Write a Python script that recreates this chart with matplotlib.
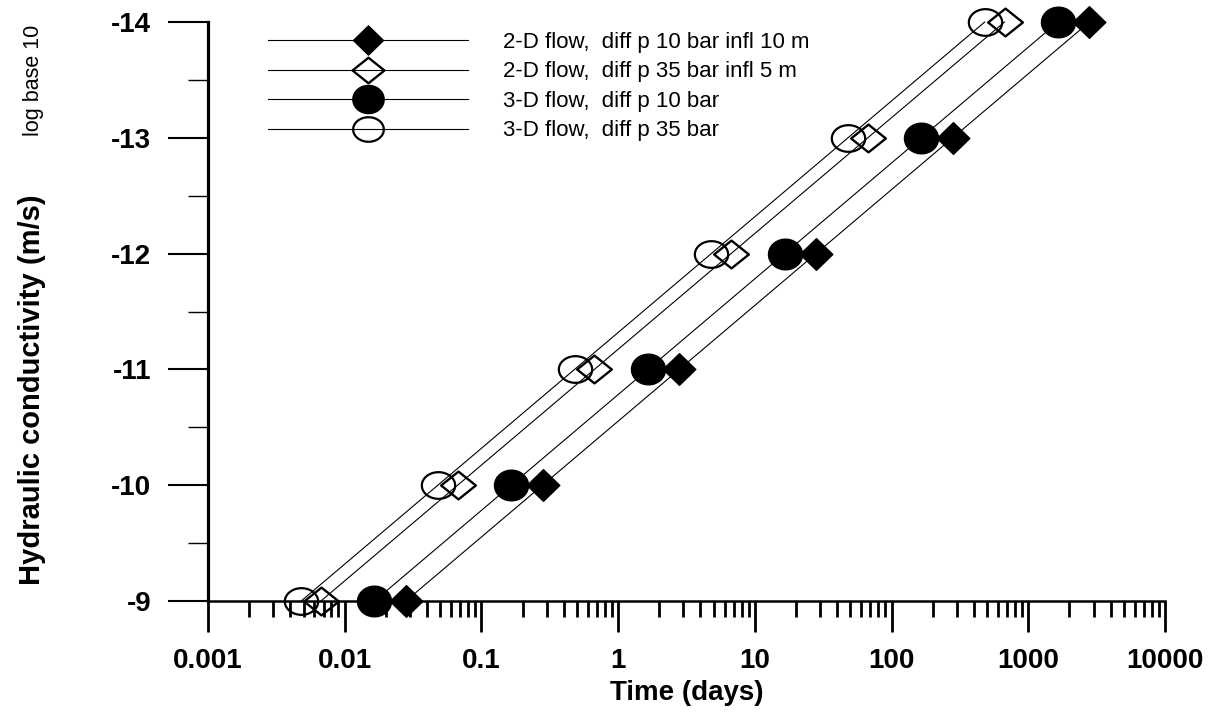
import matplotlib
matplotlib.use('Agg')
import matplotlib.pyplot as plt
from matplotlib.path import Path
from matplotlib.ticker import MultipleLocator, LogLocator, NullFormatter
import numpy as np

# ---------------- data ----------------
log_k = [-9, -10, -11, -12, -13, -14]
t_2d_10 = [0.028, 0.28, 2.8, 28, 280, 2800]
t_2d_35 = [0.0067, 0.067, 0.67, 6.7, 67, 670]
t_3d_10 = [0.0165, 0.165, 1.65, 16.5, 165, 1650]
t_3d_35 = [0.0048, 0.048, 0.48, 4.8, 48, 480]
series_labels = ["2-D flow,  diff p 10 bar infl 10 m",
                 "2-D flow,  diff p 35 bar infl 5 m",
                 "3-D flow,  diff p 10 bar",
                 "3-D flow,  diff p 35 bar"]
x_ticks = [0.001, 0.01, 0.1, 1, 10, 100, 1000, 10000]
x_tick_labels = ["0.001", "0.01", "0.1", "1", "10", "100", "1000", "10000"]
y_ticks = [-9, -10, -11, -12, -13, -14]
y_tick_labels = ["-9", "-10", "-11", "-12", "-13", "-14"]
x_label = "Time (days)"
y_label_main = "Hydraulic conductivity (m/s)"
y_label_note = "log base 10"

plt.rcParams['font.family'] = ['Liberation Sans', 'DejaVu Sans']

# ---------------- marker shapes ----------------
def ellipse(ry):
    t = np.linspace(0, 2 * np.pi, 73)
    v = np.column_stack([np.cos(t), ry * np.sin(t)])
    return Path(v, closed=True)

def diamond(ry):
    v = [(-1, 0), (0, ry), (1, 0), (0, -ry), (-1, 0)]
    return Path(v, closed=True)

fig = plt.figure(figsize=(12.3, 7.2), dpi=100)
ax = fig.add_axes([208 / 1230, 1 - 601 / 720, (1165 - 208) / 1230, (601 - 22) / 720])

styles = [
    dict(x=t_2d_10, marker=diamond(0.97), ms=23.5, mfc='black', mec='black', mew=1.0),
    dict(x=t_2d_35, marker=diamond(0.80), ms=25.0, mfc='none', mec='black', mew=1.7),
    dict(x=t_3d_10, marker=ellipse(0.90), ms=24.5, mfc='black', mec='black', mew=1.0),
    dict(x=t_3d_35, marker=ellipse(0.80), ms=24.0, mfc='none', mec='black', mew=1.6),
]
handles = []
for st, lab in zip(styles, series_labels):
    ln, = ax.plot(st['x'], log_k, color='black', lw=0.8, marker=st['marker'],
                  ms=st['ms'], mfc=st['mfc'], mec=st['mec'], mew=st['mew'],
                  label=lab, clip_on=False, zorder=3)
    handles.append(ln)

ax.set_xscale('log')
ax.set_xlim(0.001, 10000)
ax.set_ylim(-9, -14)

ax.set_xticks(x_ticks)
ax.set_xticklabels(x_tick_labels)
ax.xaxis.set_minor_locator(LogLocator(base=10, subs=np.arange(2, 10), numticks=20))
ax.xaxis.set_minor_formatter(NullFormatter())
ax.set_yticks(y_ticks)
ax.set_yticklabels(y_tick_labels)
ax.yaxis.set_minor_locator(MultipleLocator(0.5))

for side in ['top', 'right']:
    ax.spines[side].set_visible(False)
ax.spines['left'].set_linewidth(2.3)
ax.spines['bottom'].set_linewidth(1.8)

ax.tick_params(axis='x', which='major', direction='out', length=22, width=2.0,
               labelsize=20, pad=12)
ax.tick_params(axis='x', which='minor', direction='out', length=11.5, width=2.0)
ax.tick_params(axis='y', which='major', direction='out', length=29, width=1.5,
               labelsize=20, pad=12)
ax.tick_params(axis='y', which='minor', direction='out', length=14.5, width=1.0)
for lbl in ax.get_xticklabels() + ax.get_yticklabels():
    lbl.set_fontweight('bold')

ax.set_xlabel(x_label, fontsize=20, fontweight='bold', labelpad=4)

fig.text(0.026, 1 - 390 / 720, y_label_main, rotation=90, ha='center', va='center',
         fontsize=21, fontweight='bold')
fig.text(0.027, 1 - 80 / 720, y_label_note, rotation=90, ha='center', va='center',
         fontsize=15.5)

leg = ax.legend(handles=handles, loc='upper left', bbox_to_anchor=(268 / 1230, 1 - 32 / 720),
                bbox_transform=fig.transFigure, frameon=False, fontsize=16,
                handlelength=9.0, handletextpad=1.58, labelspacing=0.38,
                borderpad=0, borderaxespad=0, markerscale=0.92, numpoints=1)

fig.savefig('out.png', dpi=100)
